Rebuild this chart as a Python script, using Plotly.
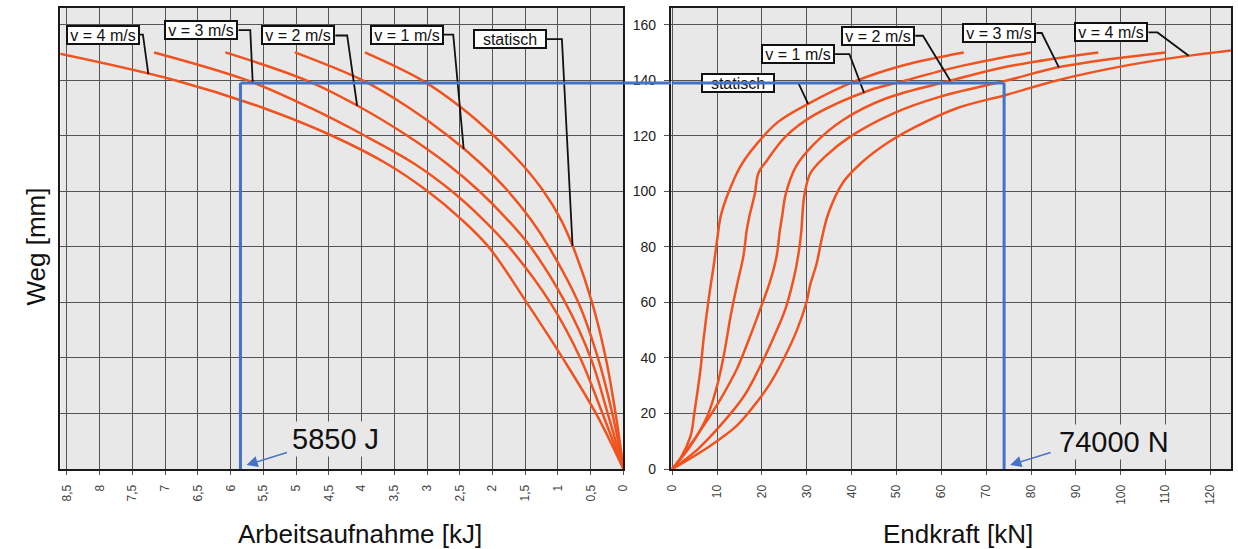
import numpy as np
import plotly.graph_objects as go

W, H = 1238, 549

# ---------------- data ----------------
# Left panel: Arbeitsaufnahme [kJ] over Weg [mm]
stroke_left = [0, 20, 40, 60, 80, 90, 100, 110, 120, 130, 140, 150]
work_statisch = [0, 0.12, 0.27, 0.48, 0.77, 0.96, 1.22, 1.56, 1.98, 2.47, 3.08, 3.95]
work_v1 = [0, 0.17, 0.39, 0.69, 1.14, 1.42, 1.76, 2.18, 2.68, 3.27, 3.99, 5.02]
work_v2 = [0, 0.24, 0.50, 0.89, 1.42, 1.78, 2.20, 2.70, 3.30, 4.00, 4.85, 6.08]
work_v3 = [0, 0.32, 0.66, 1.12, 1.75, 2.15, 2.62, 3.20, 3.95, 4.78, 5.75, 7.17]
work_v4 = [0, 0.42, 0.93, 1.48, 2.06, 2.48, 2.99, 3.62, 4.45, 5.50, 6.85, 8.70]

# Right panel: Endkraft [kN] over Weg [mm]
stroke_statisch = [0, 4, 12, 20, 36, 47, 61, 74, 82.5, 91, 99, 109, 117, 125, 131.6, 139.4, 145.4, 150]
force_statisch = [0, 1.9, 4.1, 4.9, 6.3, 7.0, 8.1, 9.3, 10.0, 10.8, 12.4, 15.2, 18.8, 23.6, 30.4, 40.4, 51.6, 65]
stroke_v1 = [0, 8.4, 19, 30, 41, 55, 66, 77, 86, 91, 99, 106.5, 111.3, 119.6, 127.4, 136.4, 139.4, 144.8, 150]
force_v1 = [0, 4.1, 7.8, 10.0, 11.5, 13.0, 14.4, 15.9, 16.6, 17.2, 18.4, 19.2, 21.2, 25.2, 31.6, 44.0, 50.8, 63.6, 80]
stroke_v2 = [0, 7, 15.6, 25, 36, 48, 57.5, 68, 77, 86, 91, 99, 109, 117, 125.6, 133.4, 139.8, 145, 150]
force_v2 = [0, 3.3, 7.0, 10.7, 14.4, 17.4, 19.6, 21.9, 23.3, 24.0, 24.5, 25.3, 27.6, 31.6, 38.0, 47.6, 62.0, 75.0, 95]
stroke_v3 = [0, 7, 15.6, 26, 36, 47, 57.5, 68, 77, 86, 91, 99, 106.5, 112.4, 119.6, 128, 134, 139.8, 145, 150]
force_v3 = [0, 5.6, 10.7, 15.9, 19.3, 22.5, 25.2, 27.0, 28.1, 28.8, 29.0, 29.5, 30.8, 34.0, 39.6, 49.2, 59.6, 74.4, 87.2, 110]
stroke_v4 = [0, 8.4, 15.6, 25, 31, 39.5, 50, 60.5, 66, 74, 82.6, 92, 103, 110, 117, 123, 130, 134.6, 140, 144.8, 148.4, 151]
force_v4 = [0, 8.5, 14.4, 19.3, 21.9, 24.8, 27.8, 30.0, 30.7, 32.2, 33.3, 34.8, 38.0, 42.0, 47.6, 54.0, 63.6, 74.2, 86.0, 99.6, 113.2, 126]

curve_names = ["statisch", "v = 1 m/s", "v = 2 m/s", "v = 3 m/s", "v = 4 m/s"]

# Leader end points (stroke in mm where each label points to its curve)
leader_stroke_left = [80.4, 115.2, 130.8, 139.1, 142.2]
leader_stroke_right = [131.5, 135.5, 139.8, 144.6, 148.8]

# Operating point marked in blue
marker_stroke = 139
marker_work = 5.85
marker_force = 74
marker_work_label = "5850 J"
marker_force_label = "74000 N"

# Axis ticks
left_ticks = [i * 0.5 for i in range(18)]
left_ticktext = [f"{v:g}".replace(".", ",") for v in left_ticks]
right_ticks = list(range(0, 130, 10))
y_ticks = list(range(0, 180, 20))

# ---------------- style ----------------
ORANGE = "#F0531F"
BLUE = "#4472C4"
GRID = "#555555"
FONT = "Liberation Sans, Arial, sans-serif"

left_dom = [55 / W, 624 / W]
right_dom = [672 / W, 1.0]

fig = go.Figure()

left_works = [work_statisch, work_v1, work_v2, work_v3, work_v4]
for name, w in zip(curve_names, left_works):
    fig.add_trace(go.Scatter(x=w, y=stroke_left, mode="lines", name=name,
                             line=dict(color=ORANGE, width=2.5, shape="spline", smoothing=1.0),
                             xaxis="x", yaxis="y", showlegend=False, hoverinfo="skip"))

right_data = [(stroke_statisch, force_statisch), (stroke_v1, force_v1), (stroke_v2, force_v2),
              (stroke_v3, force_v3), (stroke_v4, force_v4)]
for name, (mm, kn) in zip(curve_names, right_data):
    fig.add_trace(go.Scatter(x=kn, y=mm, mode="lines", name=name,
                             line=dict(color=ORANGE, width=2.5, shape="spline", smoothing=1.0),
                             xaxis="x2", yaxis="y2", showlegend=False, hoverinfo="skip"))

common_x = dict(showgrid=True, gridcolor=GRID, gridwidth=1, showline=True, linecolor="#1a1a1a",
                linewidth=2, mirror=True, ticks="outside", ticklen=4, tickcolor=GRID,
                tickangle=-90, zeroline=False, ticklabelstandoff=5,
                tickfont=dict(family=FONT, size=12, color="#444444"))
common_y = dict(showgrid=True, gridcolor=GRID, gridwidth=1, showline=True, linecolor="#1a1a1a",
                linewidth=2, mirror=True, zeroline=False, range=[0, 166], tickvals=y_ticks,
                domain=[0, 1])

fig.update_layout(
    width=W, height=H, margin=dict(l=0, r=0, t=8, b=80),
    paper_bgcolor="white", plot_bgcolor="#e8e8e8",
    xaxis=dict(common_x, domain=left_dom, range=[8.6, 0], tickvals=left_ticks,
               ticktext=left_ticktext, anchor="y"),
    yaxis=dict(common_y, anchor="x", showticklabels=False, ticks=""),
    xaxis2=dict(common_x, domain=right_dom, range=[-0.3, 124.6], tickvals=right_ticks, anchor="y2"),
    yaxis2=dict(common_y, anchor="x2", ticks="outside", ticklen=5, tickcolor=GRID,
                ticklabelstandoff=5, tickfont=dict(family=FONT, size=14, color="#222222")),
    font=dict(family=FONT),
)

shapes = []
annotations = []

# Label boxes and leader lines: (right edge x, middle y, end of horizontal stub x)
left_label_pos = [(1.17, 154.8, 0.94), (2.74, 156.4, 2.60), (4.40, 156.1, 4.22),
                  (5.88, 158.0, 5.70), (7.39, 156.4, 7.34)]
right_label_pos = [(22.8, 139.0, 28.1), (36.3, 149.4, 39.5), (54.2, 156.0, 55.9),
                   (81.2, 157.0, 82.4), (106.2, 157.2, 108.2)]

def add_labels(xr, yr, label_pos, leader_mm, curves):
    for name, (rx, my, sx), lmm, (cx, cy) in zip(curve_names, label_pos, leader_mm, curves):
        ex = float(np.interp(lmm, cy, cx))
        shapes.append(dict(type="path", xref=xr, yref=yr, layer="above",
                           path=f"M {rx},{my} L {sx},{my} L {ex},{lmm}",
                           line=dict(color="#111111", width=1.8)))
        annotations.append(dict(x=rx, y=my, xref=xr, yref=yr, xanchor="right", yanchor="middle",
                                text=name, showarrow=False, bgcolor="white", width=70, height=16,
                                align="center", valign="middle",
                                bordercolor="#111111", borderwidth=2, borderpad=0,
                                font=dict(family=FONT, size=16, color="#111111")))

add_labels("x", "y", left_label_pos, leader_stroke_left,
           [(w, stroke_left) for w in left_works])
add_labels("x2", "y2", right_label_pos, leader_stroke_right,
           [(kn, mm) for mm, kn in right_data])

# Blue operating-point lines
blue = dict(color=BLUE, width=3)
shapes.append(dict(type="line", xref="x", yref="y", x0=marker_work, x1=marker_work,
                   y0=0, y1=marker_stroke, line=blue, layer="above"))
shapes.append(dict(type="line", xref="x", yref="y", x0=marker_work, x1=0,
                   y0=marker_stroke, y1=marker_stroke, line=blue, layer="above"))
shapes.append(dict(type="line", xref="paper", yref="y", x0=left_dom[1], x1=right_dom[0],
                   y0=marker_stroke, y1=marker_stroke, line=blue, layer="above"))
shapes.append(dict(type="line", xref="x2", yref="y2", x0=marker_force, x1=marker_force,
                   y0=0, y1=marker_stroke, line=blue, layer="above"))
# right horizontal part drawn as annotation arrow so it lies over the "statisch" box
annotations.append(dict(x=marker_force, y=marker_stroke, xref="x2", yref="y2",
                        ax=-0.3, ay=marker_stroke, axref="x2", ayref="y2", text="",
                        showarrow=True, arrowhead=0, arrowwidth=3, arrowcolor=BLUE,
                        standoff=0, startstandoff=0))

# Value callouts
for xr, yr, xv, label, dx_text, dy_text in [("x", "y", marker_work, marker_work_label, 50, 30),
                                            ("x2", "y2", marker_force, marker_force_label, 53, 27)]:
    annotations.append(dict(x=xv, y=0, xref=xr, yref=yr, xshift=6, yshift=4, ax=42, ay=-13,
                            text="", showarrow=True, arrowhead=2, arrowsize=1.6, arrowwidth=1.4,
                            arrowcolor=BLUE, standoff=0))
    annotations.append(dict(x=xv, y=0, xref=xr, yref=yr, xshift=dx_text, yshift=dy_text,
                            xanchor="left", yanchor="middle", text=label, showarrow=False,
                            bgcolor="#e8e8e8", font=dict(family=FONT, size=29, color="#111111")))

# Axis titles
annotations.append(dict(x=30 / W, y=80, xref="paper", yref="y", text="Weg [mm]", textangle=-90,
                        showarrow=False, xanchor="center", yanchor="middle",
                        font=dict(family=FONT, size=26, color="#111111")))
annotations.append(dict(x=358 / W, y=-0.141, xref="paper", yref="paper",
                        text="Arbeitsaufnahme [kJ]", showarrow=False, xanchor="center",
                        yanchor="middle", font=dict(family=FONT, size=26, color="#111111")))
annotations.append(dict(x=962 / W, y=-0.141, xref="paper", yref="paper",
                        text="Endkraft [kN]", showarrow=False, xanchor="center",
                        yanchor="middle", font=dict(family=FONT, size=26, color="#111111")))

fig.update_layout(shapes=shapes, annotations=annotations)
fig.write_html("out.html", config={"displayModeBar": False},
               post_script="document.body.style.margin='0px';document.body.style.overflow='hidden';")
